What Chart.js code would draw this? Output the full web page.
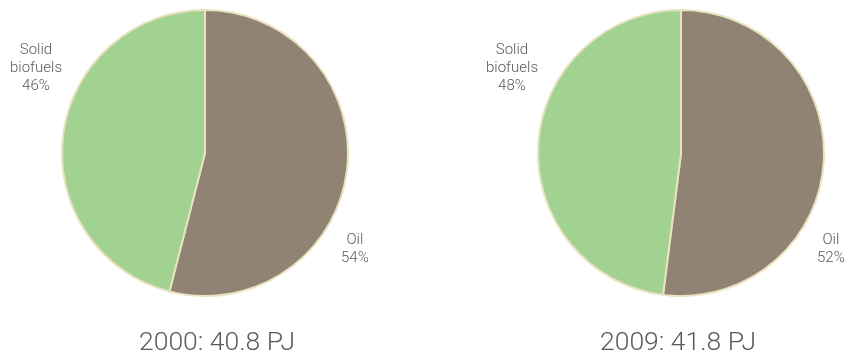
<!DOCTYPE html>
<html>
<head>
<meta charset="utf-8">
<script src="https://cdn.jsdelivr.net/npm/chart.js@4.4.1/dist/chart.umd.min.js"></script>
<style>
  html, body { margin: 0; padding: 0; background: #fff; overflow: hidden; }
  #wrap { position: relative; width: 850px; height: 361px; }
  .cv { position: absolute; top: 0; }
</style>
</head>
<body>
<div id="wrap">
  <div class="cv" style="left:0;width:425px;height:361px;"><canvas id="c1"></canvas></div>
  <div class="cv" style="left:425px;width:425px;height:361px;"><canvas id="c2"></canvas></div>
</div>
<script>
// ---- data ----
const categories = ["Oil", "Solid biofuels"];
const labelLines = [["Oil"], ["Solid", "biofuels"]];
const values2000 = [54, 46];
const values2009 = [52, 48];
const titles = ["2000: 40.8 PJ", "2009: 41.8 PJ"];

// ---- style ----
const colors = ["#908374", "#a2d291"];
const borderCol = "#e8e2bf";
const textCol = "#5a5a5a";
const FONT = "Roboto, 'Noto Sans', sans-serif";

// label placement relative to pie center, in units of radius
const labelPos = {
  right: { dx: 1.048, dy: 0.675 },
  left:  { dx: -1.182, dy: -0.594 }
};

const labelPlugin = {
  id: 'outerLabels',
  afterDatasetsDraw(chart, args, opts) {
    const ctx = chart.ctx;
    const meta = chart.getDatasetMeta(0);
    const data = chart.data.datasets[0].data;
    const total = data.reduce((a, b) => a + b, 0);
    ctx.save();
    ctx.fillStyle = textCol;
    ctx.textAlign = 'center';
    ctx.textBaseline = 'middle';
    ctx.font = "300 15px " + FONT;
    meta.data.forEach((arc, i) => {
      const mid = (arc.startAngle + arc.endAngle) / 2;
      const side = Math.cos(mid) >= 0 ? 'right' : 'left';
      const p = labelPos[side];
      const r = arc.outerRadius;
      const cx = arc.x + p.dx * r;
      const cy = arc.y + p.dy * r;
      const pct = Math.round(data[i] / total * 100) + "%";
      const lines = labelLines[i].concat([pct]);
      const lh = 18;
      const start = cy - (lines.length - 1) * lh / 2;
      lines.forEach((t, k) => ctx.fillText(t, cx, start + k * lh));
    });
    // title under pie
    const arc0 = meta.data[0];
    ctx.font = "300 26.5px " + FONT;
    ctx.fillText(opts.text, arc0.x + opts.dx, 343);
    ctx.restore();
  }
};

function makePie(id, values, title, padLeft, padRight, titleDx) {
  return new Chart(document.getElementById(id), {
    type: 'pie',
    data: {
      labels: categories,
      datasets: [{
        data: values,
        backgroundColor: colors,
        borderColor: borderCol,
        borderWidth: 2,
        hoverOffset: 0
      }]
    },
    options: {
      responsive: true,
      maintainAspectRatio: false,
      animation: false,
      radius: 143,
      layout: { padding: { top: 10, bottom: 65, left: padLeft, right: padRight } },
      plugins: {
        legend: { display: false },
        tooltip: { enabled: false },
        title: { display: false },
        outerLabels: { text: title, dx: titleDx }
      }
    },
    plugins: [labelPlugin]
  });
}

makePie('c1', values2000, titles[0], 0, 15, 12);
makePie('c2', values2009, titles[1], 87, 0, -3);
</script>
</body>
</html>
